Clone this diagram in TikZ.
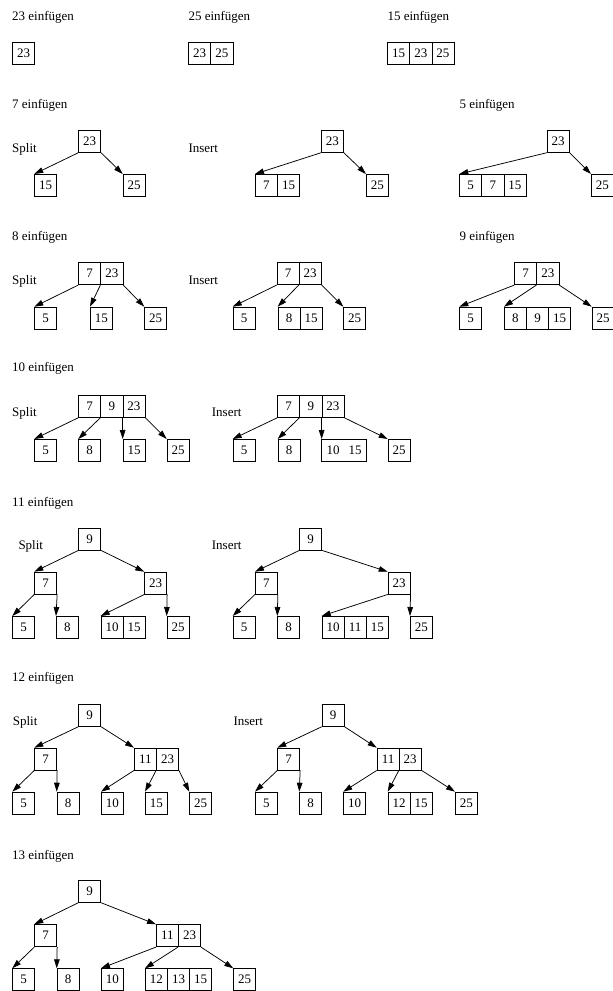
\documentclass[tikz,border=0pt]{standalone}
\usepackage{fontspec}
\setmainfont{Liberation Serif}
\usetikzlibrary{arrows.meta}

% width of one key cell of a B-tree node
\newcommand{\cellw}{22.1}

% \bkeys{name}{x}{y}{k1,k2,...}: a row of key cells, top-left corner at (x,y)
\newcommand{\bkeys}[4]{%
  \foreach \k [count=\i] in {#4}{%
    \node[cell] (#1-\i) at ({#2+(\i-1)*\cellw},#3) {\k};}}

% \bwide{name}{x}{y}{k1,k2}: two keys in one box without a divider
\newcommand{\bwide}[4]{%
  \foreach \k [count=\i] in {#4}{%
    \node[cell,draw=none] (#1-\i) at ({#2+(\i-1)*\cellw},#3) {\k};}
  \draw[boxline] (#1-1.north west) rectangle (#1-2.south east);}

% \ptr{start}{child}: pointer from a corner of a parent to the child's top-left corner
\newcommand{\ptr}[2]{\draw[pointer] (#1) -- (#2-1.north west);}

\tikzset{
  boxline/.style={line width=0.75pt},
  cell/.style={draw, boxline, anchor=north west, inner sep=0pt,
    minimum width=\cellw pt, minimum height=22pt,
    font=\fontsize{13}{15}\selectfont},
  lbl/.style={anchor=base west, inner sep=0pt,
    font=\fontsize{13}{15}\selectfont},
  pointer/.style={-{Triangle[length=9pt,width=5.6pt]}, line width=0.75pt},
}

\begin{document}
\begin{tikzpicture}[x=1pt, y=-1pt]
\clip (0,0) rectangle (613,991);

% ---- first three insertions
\node[lbl] (t23) at (12,20) {23 einfügen};
\bkeys{a}{12.3}{42.3}{23}
\node[lbl] (t25) at (188.3,20) {25 einfügen};
\bkeys{b}{188.3}{42.3}{23,25}
\node[lbl] (t15) at (387.3,20) {15 einfügen};
\bkeys{c}{387.3}{42.3}{15,23,25}

% ---- insert 7
\node[lbl] (t7) at (12,108) {7 einfügen};
\node[lbl] (s7lbl) at (12,152) {Split};
\bkeys{s7r}{78.3}{130}{23}
\bkeys{s7a}{34.3}{174}{15}
\bkeys{s7b}{122.7}{174}{25}
\ptr{s7r-1.south west}{s7a}
\ptr{s7r-1.south east}{s7b}

\node[lbl] (i7lbl) at (188.3,152) {Insert};
\bkeys{i7r}{321}{130}{23}
\bkeys{i7a}{255}{174}{7,15}
\bkeys{i7b}{366}{174}{25}
\ptr{i7r-1.south west}{i7a}
\ptr{i7r-1.south east}{i7b}

% ---- insert 5
\node[lbl] (t5) at (459.3,108) {5 einfügen};
\bkeys{f5r}{546.7}{130}{23}
\bkeys{f5a}{459.3}{174}{5,7,15}
\bkeys{f5b}{591}{174}{25}
\ptr{f5r-1.south west}{f5a}
\ptr{f5r-1.south east}{f5b}

% ---- insert 8
\node[lbl] (t8) at (12,240) {8 einfügen};
\node[lbl] (s8lbl) at (12,284.3) {Split};
\bkeys{s8r}{78.3}{262.3}{7,23}
\bkeys{s8a}{34.3}{306.7}{5}
\bkeys{s8b}{90}{306.7}{15}
\bkeys{s8c}{144.3}{306.7}{25}
\ptr{s8r-1.south west}{s8a}
\ptr{s8r-2.south west}{s8b}
\ptr{s8r-2.south east}{s8c}

\node[lbl] (i8lbl) at (188.3,284.3) {Insert};
\bkeys{i8r}{276.7}{262.3}{7,23}
\bkeys{i8a}{232.7}{306.7}{5}
\bkeys{i8b}{277.7}{306.7}{8,15}
\bkeys{i8c}{343.3}{306.7}{25}
\ptr{i8r-1.south west}{i8a}
\ptr{i8r-2.south west}{i8b}
\ptr{i8r-2.south east}{i8c}

% ---- insert 9
\node[lbl] (t9) at (459.3,240) {9 einfügen};
\bkeys{n9r}{514.3}{262.3}{7,23}
\bkeys{n9a}{459.3}{306.7}{5}
\bkeys{n9b}{504}{306.7}{8,9,15}
\bkeys{n9c}{591.7}{306.7}{25}
\ptr{n9r-1.south west}{n9a}
\ptr{n9r-2.south west}{n9b}
\ptr{n9r-2.south east}{n9c}

% ---- insert 10
\node[lbl] (t10) at (12,371.7) {10 einfügen};
\node[lbl] (s10lbl) at (12,416.7) {Split};
\bkeys{s10r}{78.3}{395}{7,9,23}
\bkeys{s10a}{34.3}{439}{5}
\bkeys{s10b}{78.3}{439}{8}
\bkeys{s10c}{122.7}{439}{15}
\bkeys{s10d}{166.7}{439}{25}
\ptr{s10r-1.south west}{s10a}
\ptr{s10r-2.south west}{s10b}
\ptr{s10r-3.south west}{s10c}
\ptr{s10r-3.south east}{s10d}

\node[lbl] (i10lbl) at (211.7,416.7) {Insert};
\bkeys{i10r}{277.3}{395}{7,9,23}
\bkeys{i10a}{232.7}{439}{5}
\bkeys{i10b}{277.7}{439}{8}
\bwide{i10c}{321.7}{439}{10,15}
\bkeys{i10d}{387.7}{439}{25}
\ptr{i10r-1.south west}{i10a}
\ptr{i10r-2.south west}{i10b}
\ptr{i10r-3.south west}{i10c}
\ptr{i10r-3.south east}{i10d}

% ---- insert 11
\node[lbl] (t11) at (12,506.7) {11 einfügen};
\node[lbl] (s11lbl) at (18.3,549.3) {Split};
\bkeys{s11r}{78.3}{527.7}{9}
\bkeys{s11l}{34.3}{571.7}{7}
\bkeys{s11m}{144.3}{571.7}{23}
\bkeys{s11a}{12.3}{616}{5}
\bkeys{s11b}{56}{616}{8}
\bkeys{s11c}{100.7}{616}{10,15}
\bkeys{s11d}{166.7}{616}{25}
\ptr{s11r-1.south west}{s11l}
\ptr{s11r-1.south east}{s11m}
\ptr{s11l-1.south west}{s11a}
\ptr{s11l-1.south east}{s11b}
\ptr{s11m-1.south west}{s11c}
\ptr{s11m-1.south east}{s11d}

\node[lbl] (i11lbl) at (211.7,549.3) {Insert};
\bkeys{i11r}{299.3}{527.7}{9}
\bkeys{i11l}{255}{571.7}{7}
\bkeys{i11m}{387.7}{571.7}{23}
\bkeys{i11a}{232.7}{616}{5}
\bkeys{i11b}{277.3}{616}{8}
\bkeys{i11c}{321.7}{616}{10,11,15}
\bkeys{i11d}{410}{616}{25}
\ptr{i11r-1.south west}{i11l}
\ptr{i11r-1.south east}{i11m}
\ptr{i11l-1.south west}{i11a}
\ptr{i11l-1.south east}{i11b}
\ptr{i11m-1.south west}{i11c}
\ptr{i11m-1.south east}{i11d}

% ---- insert 12
\node[lbl] (t12) at (12,681) {12 einfügen};
\node[lbl] (s12lbl) at (12.7,725.7) {Split};
\bkeys{s12r}{78.3}{704}{9}
\bkeys{s12l}{34.3}{747.7}{7}
\bkeys{s12m}{134}{747.7}{11,23}
\bkeys{s12a}{12.3}{791.7}{5}
\bkeys{s12b}{56.7}{791.7}{8}
\bkeys{s12c}{101}{791.7}{10}
\bkeys{s12d}{145}{791.7}{15}
\bkeys{s12e}{189.3}{791.7}{25}
\ptr{s12r-1.south west}{s12l}
\ptr{s12r-1.south east}{s12m}
\ptr{s12l-1.south west}{s12a}
\ptr{s12l-1.south east}{s12b}
\ptr{s12m-1.south west}{s12c}
\ptr{s12m-2.south west}{s12d}
\ptr{s12m-2.south east}{s12e}

\node[lbl] (i12lbl) at (233.3,725.7) {Insert};
\bkeys{i12r}{321.7}{704}{9}
\bkeys{i12l}{277.3}{747.7}{7}
\bkeys{i12m}{376.7}{747.7}{11,23}
\bkeys{i12a}{255}{791.7}{5}
\bkeys{i12b}{299.3}{791.7}{8}
\bkeys{i12c}{343.3}{791.7}{10}
\bkeys{i12d}{387.7}{791.7}{12,15}
\bkeys{i12e}{455}{791.7}{25}
\ptr{i12r-1.south west}{i12l}
\ptr{i12r-1.south east}{i12m}
\ptr{i12l-1.south west}{i12a}
\ptr{i12l-1.south east}{i12b}
\ptr{i12m-1.south west}{i12c}
\ptr{i12m-2.south west}{i12d}
\ptr{i12m-2.south east}{i12e}

% ---- insert 13
\node[lbl] (t13) at (12,859) {13 einfügen};
\bkeys{u13r}{78.3}{880}{9}
\bkeys{u13l}{34.3}{924.3}{7}
\bkeys{u13m}{156}{924.3}{11,23}
\bkeys{u13a}{12.3}{968.3}{5}
\bkeys{u13b}{56.7}{968.3}{8}
\bkeys{u13c}{101}{968.3}{10}
\bkeys{u13d}{145}{968.3}{12,13,15}
\bkeys{u13e}{233.3}{968.3}{25}
\ptr{u13r-1.south west}{u13l}
\ptr{u13r-1.south east}{u13m}
\ptr{u13l-1.south west}{u13a}
\ptr{u13l-1.south east}{u13b}
\ptr{u13m-1.south west}{u13c}
\ptr{u13m-2.south west}{u13d}
\ptr{u13m-2.south east}{u13e}
\end{tikzpicture}
\end{document}
